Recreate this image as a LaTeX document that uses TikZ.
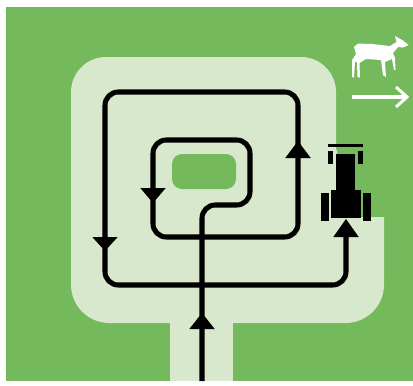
\documentclass[tikz,border=0pt]{standalone}
\usepackage{tikz}
\usepackage{xcolor}
\definecolor{fieldgreen}{HTML}{74B95B}
\definecolor{pathgreen}{HTML}{D7E8CD}

\begin{document}
\begin{tikzpicture}[xscale=0.03, yscale=-0.03,
    route/.style={black, line width=4.3pt, line cap=butt, rounded corners=0.4cm},
    machine/.style={fill=black, draw=none}]
  \useasboundingbox (0,0) rectangle (413,386);
  % --- background and mown area ---------------------------------------
  \fill[fieldgreen] (6,7) rectangle (413,381);
  \fill[pathgreen] (170,300) rectangle (233,381);
  \fill[pathgreen, rounded corners=1.05cm]
       (71,57) -- (336,57) -- (336,240) -- (71,240) -- cycle;
  \fill[pathgreen] (71,120) rectangle (336,217);
  \fill[pathgreen, rounded corners=1.15cm]
       (71,150) -- (384,150) -- (384,323) -- (71,323) -- cycle;
  \fill[fieldgreen] (336.5,120) rectangle (385,217);
  \fill[fieldgreen, rounded corners=0.3cm] (172,154) rectangle (236,189);
  % --- tractor route ---------------------------------------------------
  \draw[route] (202,381) -- (202,205) -- (250,205) -- (250,140) -- (153,140)
       -- (153,237) -- (298,237) -- (298,92) -- (105,92) -- (105,285)
       -- (346,285) -- (346,225);
  \foreach \x/\y/\d in {202/329/-16,153/188/15,298/158/-17,105/237/14,346/237/-18}
    \fill[black] (\x-12.7,\y) -- (\x+12.7,\y) -- (\x,\y+\d) -- cycle;
  % --- tractor ---------------------------------------------------------
  \fill[machine] (328,144) rectangle (363,147);
  \foreach \x in {328,358}
    \fill[machine] (\x,151) rectangle (\x+5,164);
  \fill[machine] (336,154) rectangle (355,191);
  \fill[machine] (331,190) rectangle (361,218);
  \foreach \x in {321,363}
    \fill[machine] (\x,193) rectangle (\x+8,221);
  % --- deer and direction arrow ----------------------------------------
  \fill[white] (408.7,45) -- (403,40.5) -- (395,36) -- (396.5,42) -- (390,46)
       -- (372,44) -- (358,43.5) -- (354,47) -- (356,54) -- (352,60)
       -- (352,77) -- (354,77.5) -- (355,62) -- (357,62) -- (357.5,77)
       -- (360,77.5) -- (359.5,63) -- (366,59) -- (381,60) -- (383,75)
       -- (386,77) -- (385,62) -- (392,59) -- (394,70) -- (395.5,70)
       -- (395,58) -- (393,53) -- (398,47) -- (403,47.5) -- cycle;
  \draw[white, line width=2.6pt] (352,97) -- (406,97);
  \draw[white, line width=2.6pt] (396,87) -- (407,97) -- (396,107);
\end{tikzpicture}
\end{document}
